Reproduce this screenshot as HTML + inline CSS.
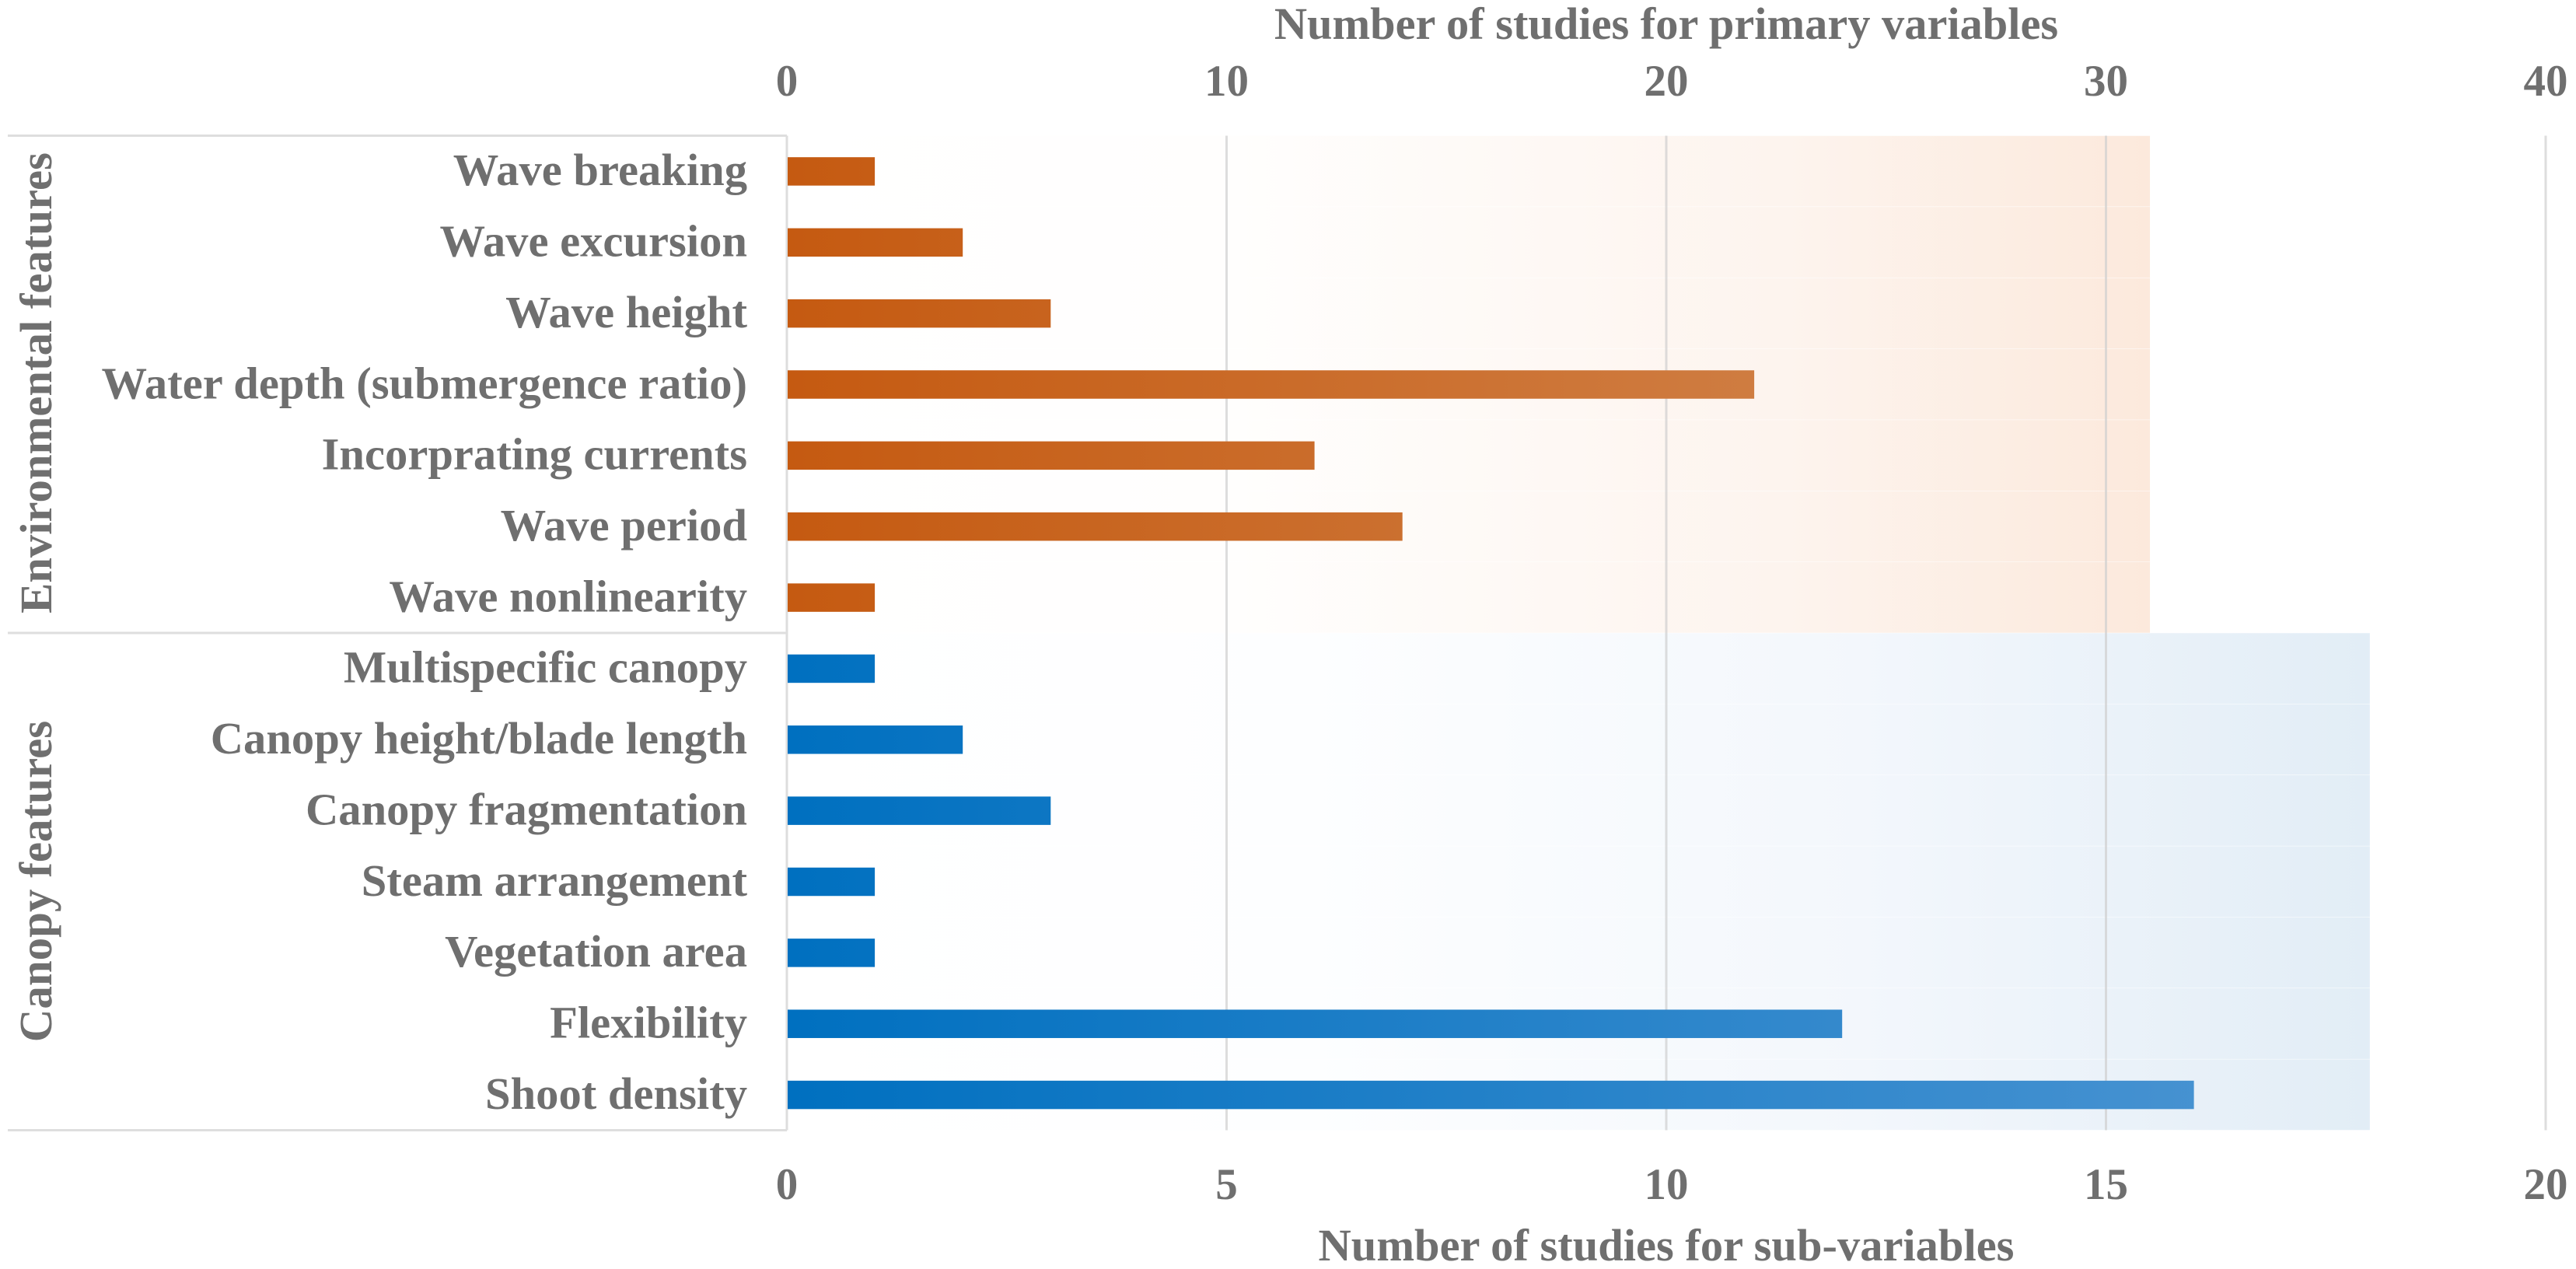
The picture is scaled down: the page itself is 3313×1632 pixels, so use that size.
<!DOCTYPE html>
<html lang="en">
<head>
<meta charset="utf-8">
<title>Number of studies for primary variables and sub-variables</title>
<style>
html,body{margin:0;padding:0;background:#fff;}
body{width:3313px;height:1632px;overflow:hidden;}
svg{display:block;}
text{font-family:"Liberation Serif","Times New Roman",serif;font-weight:bold;fill:#6f6f6f;}
</style>
</head>
<body>
<svg id="chart" xmlns="http://www.w3.org/2000/svg" width="3313" height="1632" viewBox="0 0 3313 1632">
<defs>
<linearGradient id="band-orange" x1="0" x2="1" y1="0" y2="0">
<stop offset="0" stop-color="#ffffff"/><stop offset="0.33" stop-color="#fffefd"/><stop offset="0.73" stop-color="#fdf4ee"/><stop offset="1" stop-color="#fce9dc"/>
</linearGradient>
<linearGradient id="band-blue" x1="0" x2="1" y1="0" y2="0">
<stop offset="0" stop-color="#ffffff"/><stop offset="0.33" stop-color="#fdfeff"/><stop offset="0.68" stop-color="#f3f7fc"/><stop offset="1" stop-color="#e2edf6"/>
</linearGradient>
<linearGradient id="bar-orange" gradientUnits="userSpaceOnUse" x1="1012" x2="3274" y1="0" y2="0">
<stop offset="0" stop-color="#c55a11"/><stop offset="1" stop-color="#d79868"/>
</linearGradient>
<linearGradient id="bar-blue" gradientUnits="userSpaceOnUse" x1="1012" x2="3274" y1="0" y2="0">
<stop offset="0" stop-color="#0070c0"/><stop offset="1" stop-color="#579ad5"/>
</linearGradient>
</defs>
<g id="bands"></g>
<g id="grid"></g>
<g id="bars"></g>
<g id="frame">
<line x1="10" x2="1012" y1="174.5" y2="174.5" stroke="#dedede" stroke-width="3"/>
<line x1="10" x2="1012" y1="814" y2="814" stroke="#dedede" stroke-width="3"/>
<line x1="10" x2="1012" y1="1453.5" y2="1453.5" stroke="#dedede" stroke-width="3"/>
</g>
<g id="labels"></g>
<g id="ticks-top"></g>
<g id="ticks-bottom"></g>
<text x="2143" y="50" text-anchor="middle" font-size="58.4">Number of studies for primary variables</text>
<text x="2143" y="1621" text-anchor="middle" font-size="58.5">Number of studies for sub-variables</text>
<text transform="translate(66,492.5) rotate(-90)" text-anchor="middle" font-size="58.7">Environmental features</text>
<text transform="translate(66,1133.5) rotate(-90)" text-anchor="middle" font-size="59">Canopy features</text>
</svg>
<script>
var categories = ["Wave breaking","Wave excursion","Wave height","Water depth (submergence ratio)","Incorprating currents","Wave period","Wave nonlinearity","Multispecific canopy","Canopy height/blade length","Canopy fragmentation","Steam arrangement","Vegetation area","Flexibility","Shoot density"];
var groups = ["env","env","env","env","env","env","env","can","can","can","can","can","can","can"];
var subValues = [1,2,3,11,6,7,1,1,2,3,1,1,12,16];
var primaryValues = [31,31,31,31,31,31,31,36,36,36,36,36,36,36];
var bottomTicks = [0,5,10,15,20];
var topTicks = [0,10,20,30,40];

var SVGNS = "http://www.w3.org/2000/svg";
var plotLeft = 1012, plotRight = 3274, plotTop = 174.5, plotBottom = 1453.5;
function xSub(v){ return plotLeft + v / 20 * (plotRight - plotLeft); }
function xPrimary(v){ return plotLeft + v / 40 * (plotRight - plotLeft); }
var bandH = (plotBottom - plotTop) / categories.length;
function yBand(i){ return plotTop + i * bandH; }
function make(tag, attrs, parent){
  var el = document.createElementNS(SVGNS, tag);
  for (var k in attrs) el.setAttribute(k, attrs[k]);
  parent.appendChild(el);
  return el;
}
var bandsG = document.getElementById("bands");
var gridG = document.getElementById("grid");
var barsG = document.getElementById("bars");
var labelsG = document.getElementById("labels");
var topG = document.getElementById("ticks-top");
var botG = document.getElementById("ticks-bottom");

primaryValues.forEach(function(v, i){
  var el = make("rect", {x: plotLeft, y: yBand(i) + 0.25, width: xPrimary(v) - plotLeft, height: bandH - 0.5, fill: groups[i] === "env" ? "url(#band-orange)" : "url(#band-blue)"}, bandsG);
  
  
});
bottomTicks.forEach(function(t){
  var el = make("line", {x1: xSub(t), x2: xSub(t), y1: plotTop, y2: plotBottom, stroke: "#cfcfcf", "stroke-width": 3, "stroke-opacity": 0.7}, gridG);
  
  
  var lb = make("text", {x: xSub(t), y: 1542, "text-anchor": "middle", "font-size": 57}, botG);
  lb.textContent = t;
  
  
});
topTicks.forEach(function(t){
  var lb = make("text", {x: xPrimary(t), y: 123, "text-anchor": "middle", "font-size": 57}, topG);
  lb.textContent = t;
  
  
});
subValues.forEach(function(v, i){
  var cy = yBand(i) + bandH / 2;
  var el = make("rect", {x: plotLeft + 1, y: cy - 18, width: xSub(v) - plotLeft - 1, height: 36.5, fill: groups[i] === "env" ? "url(#bar-orange)" : "url(#bar-blue)"}, barsG);
  
  
  var lb = make("text", {x: 961, y: cy + 18, "text-anchor": "end", "font-size": 58.6}, labelsG);
  lb.textContent = categories[i];
  
  
});
</script>
</body>
</html>
